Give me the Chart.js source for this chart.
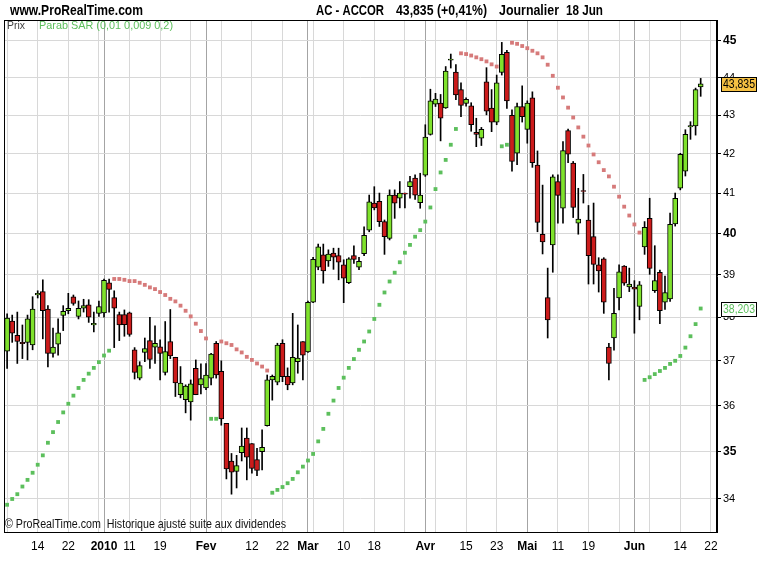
<!DOCTYPE html>
<html><head><meta charset="utf-8">
<script src="https://cdn.jsdelivr.net/npm/chart.js@4.4.1/dist/chart.umd.min.js"></script>
<style>html,body{margin:0;padding:0;background:#fff}#wrap{width:768px;height:576px;position:relative}</style>
</head><body><div id="wrap"><canvas id="c" width="768" height="576"></canvas></div>
<script>
// ---- trading days (Euronext Paris) ----
const monthDays = {
  '2009-12': [4,7,8,9,10,11,14,15,16,17,18,21,22,23,24,28,29,30,31],
  '2010-01': [4,5,6,7,8,11,12,13,14,15,18,19,20,21,22,25,26,27,28,29],
  '2010-02': [1,2,3,4,5,8,9,10,11,12,15,16,17,18,19,22,23,24,25,26],
  '2010-03': [1,2,3,4,5,8,9,10,11,12,15,16,17,18,19,22,23,24,25,26,29,30,31],
  '2010-04': [1,6,7,8,9,12,13,14,15,16,19,20,21,22,23,26,27,28,29,30],
  '2010-05': [3,4,5,6,7,10,11,12,13,14,17,18,19,20,21,24,25,26,27,28,31],
  '2010-06': [1,2,3,4,7,8,9,10,11,14,15,16,17,18]
};
const dates = Object.entries(monthDays).flatMap(([m, ds]) => ds.map(d => m + '-' + String(d).padStart(2, '0')));

// ---- OHLC ----
const open = [37.22,37.91,37.58,37.42,37.42,37.36,38.52,38.6,38.19,37.17,
37.38,38.04,38.15,38.48,38.02,38.21,38.29,37.82,38.09,38.1,
38.81,38.46,38.06,38.06,38.1,37.25,36.61,37.19,37.46,37.31,
37.32,36.74,37.44,37.08,36.24,36.13,36.08,36.83,36.46,36.39,
36.61,37.4,36.76,35.61,34.8,34.58,34.98,35.29,35.17,34.83,
35.0,35.56,36.57,36.52,37.4,36.65,36.5,36.98,37.44,37.2,
38.35,39.18,39.48,39.33,39.52,39.46,39.24,38.81,39.46,39.18,
39.51,40.08,40.75,40.79,40.29,39.88,40.95,40.87,41.0,41.16,
41.38,40.76,41.45,42.5,43.29,43.32,43.19,44.47,44.15,43.68,
43.31,43.25,42.55,42.4,43.89,43.19,42.82,44.14,44.69,43.0,
42.01,43.23,42.63,43.46,41.71,39.98,38.46,39.72,41.29,40.62,
42.6,41.76,40.25,41.06,40.33,39.92,39.24,39.38,37.31,37.52,
38.45,39.21,38.71,38.71,38.25,39.67,40.37,38.62,39.06,38.35,
38.43,40.23,41.12,41.55,42.69,42.72,43.75];
const high = [38.08,38.05,38.12,37.82,38.05,38.48,38.62,38.88,38.27,37.75,
37.96,38.27,38.56,38.52,38.38,38.42,38.41,38.12,38.38,38.9,
38.9,38.62,38.12,38.17,38.12,37.3,36.98,37.52,38.0,37.8,
37.48,37.9,38.18,37.08,36.87,36.46,36.57,37.02,36.93,36.94,
37.17,37.44,37.0,35.61,34.96,34.92,35.51,35.51,35.17,35.07,
35.47,36.68,36.68,37.4,37.48,36.84,38.09,37.82,37.44,38.38,
39.42,39.74,39.74,39.6,39.64,39.64,39.36,39.41,39.7,39.42,
40.16,40.95,41.16,41.0,40.33,41.08,41.08,41.29,41.0,41.42,
41.46,41.5,42.75,43.69,43.58,43.55,44.3,44.64,44.35,43.86,
43.46,43.33,42.92,42.68,44.27,43.68,44.07,44.96,44.74,43.14,
43.32,43.78,43.38,43.62,42.07,41.2,39.16,41.46,41.46,42.31,
42.64,41.8,41.12,41.47,40.69,40.75,39.41,39.41,37.4,38.68,
39.24,39.22,39.16,38.86,38.84,40.29,40.87,39.7,39.11,38.97,
40.5,41.0,42.01,42.62,42.83,43.72,43.98];
const low = [36.83,37.42,36.94,37.05,37.02,37.25,38.45,37.5,36.86,37.08,
37.13,37.69,38.08,38.28,37.96,38.12,37.88,37.66,38.02,38.0,
38.12,37.3,37.46,37.56,37.56,36.59,36.57,36.98,36.83,36.94,
36.57,36.68,37.05,36.2,36.17,35.84,35.68,36.24,36.26,36.35,
36.46,36.61,35.57,34.42,34.1,34.23,34.8,34.4,34.54,34.49,
34.61,35.55,36.12,36.46,36.53,36.35,36.46,36.72,36.57,37.19,
38.34,39.12,38.8,39.2,39.13,38.88,38.34,38.79,39.27,39.12,
39.46,40.04,40.58,40.17,39.49,39.84,40.37,40.63,40.63,40.87,
40.84,40.62,41.42,42.48,43.23,42.33,43.18,44.26,43.41,42.96,
43.24,42.58,42.18,42.21,43.01,42.57,42.75,44.07,43.18,41.55,
41.72,42.82,42.27,41.65,40.04,39.5,37.52,39.06,40.25,40.25,
41.77,40.39,39.98,40.75,38.78,38.78,38.59,38.09,36.57,37.24,
38.17,38.75,38.6,37.63,37.94,39.49,39.01,38.58,37.85,38.18,
38.37,40.18,41.08,41.43,42.37,42.48,43.5];
const close = [37.98,37.63,37.44,37.39,37.96,38.19,38.56,38.15,37.17,37.31,
37.64,38.14,38.21,38.32,38.21,38.27,38.0,37.86,38.25,38.87,
38.65,38.21,37.82,37.83,37.6,36.74,36.89,37.28,37.03,37.4,
37.17,37.21,37.11,36.5,36.5,36.43,36.48,36.24,36.6,36.68,
37.15,36.68,35.71,34.63,34.56,34.7,35.12,34.88,34.64,34.6,
35.09,36.57,36.65,37.36,36.64,36.46,37.08,37.06,37.13,38.35,
39.37,39.67,39.09,39.5,39.42,39.3,38.92,39.38,39.37,39.32,
39.95,40.78,40.63,40.29,39.92,40.95,40.75,41.0,40.97,41.29,
40.95,40.95,42.43,43.38,43.43,42.92,44.18,44.5,43.54,43.26,
43.42,42.75,42.5,42.63,43.11,42.82,43.86,44.63,43.38,41.8,
43.23,42.96,43.32,41.77,40.27,39.79,37.94,41.41,40.94,42.08,
41.99,40.64,40.35,41.04,39.46,39.25,39.09,38.35,36.94,38.09,
39.07,38.8,38.78,38.66,38.76,40.15,39.15,38.86,38.15,38.58,
40.22,40.87,41.98,42.5,42.73,43.68,43.835];

// ---- Parabolic SAR (0,01 0,009 0,2) ----
const sar = [33.88,34.0,34.1,34.26,34.4,34.55,34.72,34.92,35.19,35.42,
35.64,35.85,36.04,36.22,36.39,36.57,36.71,36.84,36.97,37.12,
37.23,38.9,38.9,38.88,38.85,38.85,38.81,38.76,38.7,38.66,
38.59,38.52,38.43,38.37,38.27,38.15,38.02,37.85,37.68,37.51,
35.71,35.71,37.44,37.4,37.36,37.26,37.19,37.09,37.02,36.94,
36.87,36.78,34.13,34.19,34.25,34.33,34.42,34.56,34.68,34.81,
34.95,35.22,35.49,35.82,36.11,36.39,36.62,36.84,37.04,37.25,
37.44,37.67,37.96,38.29,38.58,38.84,39.05,39.3,39.53,39.72,
39.92,40.08,40.29,40.64,41.1,41.52,41.84,42.23,42.64,44.66,
44.64,44.6,44.55,44.5,44.44,44.36,44.3,42.19,42.23,44.95,
44.92,44.86,44.8,44.73,44.66,44.55,44.35,44.05,43.73,43.47,
43.2,42.94,42.68,42.44,42.21,41.98,41.78,41.58,41.42,41.16,
40.91,40.66,40.44,40.22,40.02,36.57,36.63,36.7,36.77,36.84,
36.93,37.0,37.11,37.3,37.56,37.84,38.203];

// ---- axis ticks ----
const xTickPos  = [6,12,19,24,30,39,48,54,59,66,72,82,90,96,102,108,114,123,132,138];
const xTickText = ['14','22','2010','11','19','Fev','12','22','Mar','10','18','Avr','15','23','Mai','11','19','Jun','14','22'];
const monthStartPos = [19,39,59,82,102,123];
const yTicks = [34,35,36,37,38,39,40,41,42,43,44,45];

// ---- build ----
const idx = dates.map((d, i) => i);
const GREEN = '#7fe22c', RED = '#cc1b1b';
const gridPos = [];
for (let p = 0; p <= 138; p += 6) gridPos.push(p);
monthStartPos.forEach(p => { if (!gridPos.includes(p)) gridPos.push(p); });
gridPos.sort((a, b) => a - b);
const labelMap = {};
xTickPos.forEach((p, k) => labelMap[p] = xTickText[k]);

function fitText(ctx, text, x, y, font, color, w) {
  ctx.save();
  ctx.font = font; ctx.fillStyle = color; ctx.textBaseline = 'middle'; ctx.textAlign = 'left';
  const m = ctx.measureText(text).width;
  ctx.translate(x, y); ctx.scale(w ? w / m : 1, 1);
  ctx.fillText(text, 0, 0);
  ctx.restore();
}

const deco = {
  id: 'deco',
  afterDraw(chart) {
    const ctx = chart.ctx, a = chart.chartArea, ys = chart.scales.y;
    ctx.save();
    ctx.strokeStyle = '#000'; ctx.lineWidth = 1;
    ctx.strokeRect(a.left + 0.5, a.top + 0.5, a.right - a.left - 1, a.bottom - a.top);
    ctx.restore();
    const F = "'Liberation Sans', Arial, sans-serif";
    fitText(ctx, 'www.ProRealTime.com', 10, 11, 'bold 14px ' + F, '#000', 133);
    fitText(ctx, 'AC - ACCOR', 316, 11, 'bold 14px ' + F, '#000', 68);
    fitText(ctx, '43,835 (+0,41%)', 396, 11, 'bold 14px ' + F, '#000', 91);
    fitText(ctx, 'Journalier', 499, 11, 'bold 14px ' + F, '#000', 60);
    fitText(ctx, '18 Jun', 566, 11, 'bold 14px ' + F, '#000', 37);
    fitText(ctx, 'Prix', 7, 26, '11px ' + F, '#444', 18);
    fitText(ctx, 'Parab SAR (0,01 0,009 0,2)', 39, 26, '11px ' + F, '#5cbf5c', 134);
    fitText(ctx, '\u00a9 ProRealTime.com  Historique ajusté suite aux dividendes', 5, 525, '12px ' + F, '#111', 281);
    // last price box
    const p1 = Math.round(ys.getPixelForValue(close[close.length - 1]));
    ctx.fillStyle = '#f6c143'; ctx.fillRect(721, p1 - 7, 36, 15);
    ctx.strokeStyle = '#000'; ctx.strokeRect(721.5, p1 - 6.5, 35, 14);
    fitText(ctx, '43,835', 723, p1 + 1, '12px ' + F, '#000', 32);
    // last SAR box
    const p2 = Math.round(ys.getPixelForValue(sar[sar.length - 1]));
    ctx.fillStyle = '#fff'; ctx.fillRect(721, p2 - 7, 36, 15);
    ctx.strokeStyle = '#000'; ctx.strokeRect(721.5, p2 - 6.5, 35, 14);
    fitText(ctx, '38,203', 723, p2 + 1, '12px ' + F, '#5cbf5c', 32);
  }
};

Chart.defaults.font.family = "'Liberation Sans', Arial, sans-serif";

new Chart(document.getElementById('c'), {
  type: 'bar',
  data: {
    datasets: [
      {
        label: 'corps',
        data: idx.map(i => ({ x: i, y: [Math.min(open[i], close[i]), Math.max(open[i], close[i])] })),
        backgroundColor: idx.map(i => close[i] >= open[i] ? GREEN : RED),
        borderColor: '#000', borderWidth: 1, borderSkipped: false,
        barThickness: 5, grouped: false, order: 1
      },
      {
        label: 'meches',
        data: idx.map(i => ({ x: i, y: [low[i], high[i]] })),
        backgroundColor: '#000', borderWidth: 0,
        barThickness: 1, grouped: false, order: 2
      },
      {
        type: 'line', label: 'SAR haut',
        data: idx.filter(i => sar[i] < close[i]).map(i => ({ x: i, y: sar[i] })),
        showLine: false, pointStyle: 'rect', pointRadius: 2.7,
        pointBackgroundColor: '#5cbf5c', pointBorderWidth: 0, order: 3
      },
      {
        type: 'line', label: 'SAR bas',
        data: idx.filter(i => sar[i] >= close[i]).map(i => ({ x: i, y: sar[i] })),
        showLine: false, pointStyle: 'rect', pointRadius: 2.7,
        pointBackgroundColor: '#d67a7a', pointBorderWidth: 0, order: 3
      }
    ]
  },
  options: {
    responsive: false, animation: false, devicePixelRatio: 1,
    layout: { padding: { top: 20, left: 4, right: 0, bottom: 0 } },
    plugins: { legend: { display: false }, tooltip: { enabled: false } },
    scales: {
      x: {
        type: 'linear', min: -0.61, max: 139.2, offset: false,
        afterBuildTicks: s => { s.ticks = gridPos.map(v => ({ value: v })); },
        afterFit: s => { s.height = 44; },
        grid: {
          offset: false, drawTicks: false, lineWidth: 1,
          color: c => (c.tick && monthStartPos.includes(c.tick.value)) ? '#a4a4a4' : '#d8d8d8'
        },
        border: { display: true, color: '#000' },
        ticks: {
          autoSkip: false, maxRotation: 0, minRotation: 0, padding: 7, color: '#000',
          font: c => ({ size: 12, weight: (c.tick && monthStartPos.includes(c.tick.value)) ? 'bold' : 'normal' }),
          callback: v => labelMap[v] !== undefined ? labelMap[v] : ''
        }
      },
      y: {
        type: 'logarithmic', position: 'right', min: 33.32, max: 45.58,
        afterBuildTicks: s => { s.ticks = yTicks.map(v => ({ value: v })); },
        afterFit: s => { s.width = 51; },
        grid: { color: '#d8d8d8', tickColor: '#000', tickLength: 4, drawTicks: true },
        border: { display: true, color: '#000' },
        ticks: {
          padding: 2, color: '#000',
          font: c => (c.tick && c.tick.value % 5 === 0) ? { size: 12, weight: 'bold' } : { size: 11, weight: 'normal' },
          callback: v => String(v)
        }
      }
    }
  },
  plugins: [deco]
});
</script>
</body></html>
